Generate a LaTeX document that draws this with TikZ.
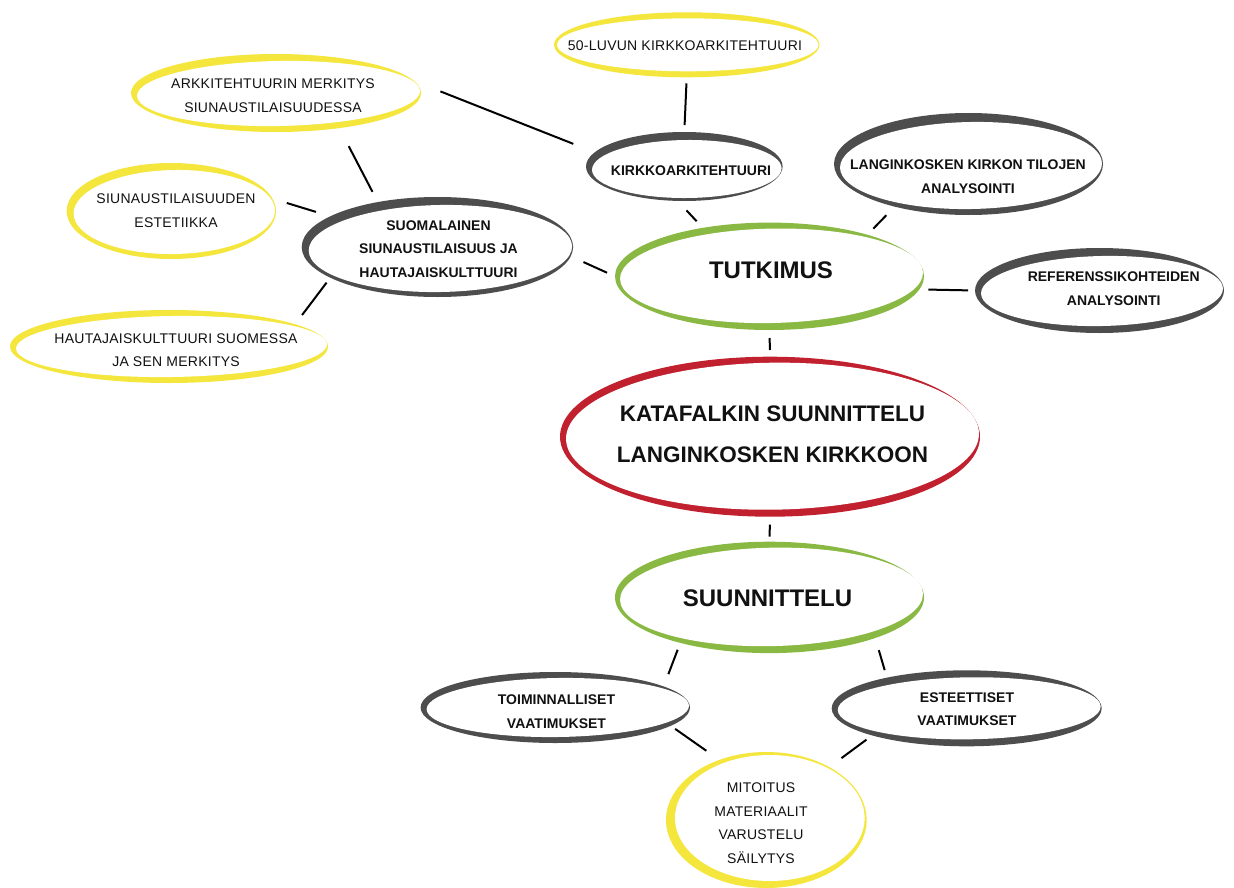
\documentclass[tikz,border=0pt]{standalone}
\usepackage{fontspec}
\setmainfont{Liberation Sans}
\newfontfamily\yfont[LetterSpace=1.8]{Liberation Sans}
\usetikzlibrary{calc,shapes.geometric}
\definecolor{byellow}{RGB}{244,230,60}
\definecolor{bdark}{RGB}{77,77,77}
\definecolor{bgreen}{RGB}{137,184,67}
\definecolor{bred}{RGB}{193,32,46}
\definecolor{txtc}{RGB}{17,17,17}
\tikzset{
  hub/.style={ellipse, inner sep=0pt, outer sep=0pt},
  ytxt/.style={font=\yfont\fontsize{14}{23.5}\selectfont, align=center, inner sep=0pt, text=txtc},
  dtxt/.style={font=\bfseries\fontsize{14}{23.5}\selectfont, align=center, inner sep=0pt, text=txtc},
  mtxt/.style={font=\bfseries\fontsize{24}{28}\selectfont, align=center, inner sep=0pt, text=txtc},
  ktxt/.style={font=\bfseries\fontsize{22.5}{41}\selectfont, align=center, inner sep=0pt, text=txtc},
  conn/.style={line width=2pt, black}
}
% name, center, rx, ry, colour, offset (dx,dy), sx, sy, rotation of the inner ellipse
\newcommand{\brushell}[9]{%
  \fill[#5] (#2) ellipse ({#3} and {#4});
  \begin{scope}[shift={($(#2)+(#6)$)}, rotate=#9]
    \fill[white] (0,0) ellipse ({#3-#7} and {#4-#8});
  \end{scope}
  \node[hub, minimum width={2*#3}, minimum height={2*#4}] (#1) at (#2) {};
}
\begin{document}
\begin{tikzpicture}[x=1pt,y=-1pt]
\fill[white] (0,0) rectangle (1234,888);
\useasboundingbox (0,0) rectangle (1234,888);

\brushell{luku}{686.7,44.8}{132.7}{32.5}{byellow}{1,0}{2}{6}{0}
\brushell{arkki}{276,93}{145}{39}{byellow}{2.5,0.5}{3.5}{6.5}{1}
\brushell{siun}{171.3,211}{104.7}{48}{byellow}{3,1}{4}{6}{1}
\brushell{hauta}{169,346.5}{159}{36.5}{byellow}{2.5,0}{3.5}{6}{0.8}
\brushell{suom}{437.4,247}{135.7}{50}{bdark}{3,1.5}{4}{6.5}{1}
\brushell{kirk}{684.3,166.5}{98.3}{34.5}{bdark}{2.5,2.5}{3.5}{5.5}{0.5}
\brushell{lang}{968.5,164}{134.5}{51}{bdark}{2.5,1.5}{3.5}{7.5}{1}
\brushell{tutk}{769.5,276.3}{154.5}{53.7}{bgreen}{2,-0.5}{3}{6.5}{1.2}
\brushell{ref}{1099.5,290.5}{124.5}{42.5}{bdark}{2.5,0.5}{3.5}{7.5}{1.2}
\brushell{kata}{770,436.7}{210}{80}{bred}{2.5,-0.5}{3.5}{6.5}{0.8}
\brushell{suun}{769.5,597.4}{154.5}{55.7}{bgreen}{2,-0.5}{3}{6.5}{1.2}
\brushell{toim}{555.3,707.5}{134.7}{35.5}{bdark}{2.5,0}{3.5}{6}{0.8}
\brushell{est}{966.7,708.3}{135}{38}{bdark}{2.5,0}{3.5}{7}{0.8}
\brushell{mit}{766.3,820}{100.3}{68}{byellow}{3.5,-2}{5.5}{5}{0}

\node[ytxt] (tluku) at (685,46) {50-LUVUN KIRKKOARKITEHTUURI};
\node[ytxt] (tarkki) at (273,95.5) {ARKKITEHTUURIN MERKITYS\\SIUNAUSTILAISUUDESSA};
\node[ytxt] (tsiun) at (176,210.5) {SIUNAUSTILAISUUDEN\\ESTETIIKKA};
\node[ytxt] (thauta) at (176,350) {HAUTAJAISKULTTUURI SUOMESSA\\JA SEN MERKITYS};
\node[dtxt] (tsuom) at (438.5,249) {SUOMALAINEN\\SIUNAUSTILAISUUS JA\\HAUTAJAISKULTTUURI};
\node[dtxt] (tkirk) at (691,171) {KIRKKOARKITEHTUURI};
\node[dtxt] (tlang) at (968,176.5) {LANGINKOSKEN KIRKON TILOJEN\\ANALYSOINTI};
\node[mtxt] (ttutk) at (771,270) {TUTKIMUS};
\node[dtxt] (tref) at (1113.7,288.5) {REFERENSSIKOHTEIDEN\\ANALYSOINTI};
\node[ktxt] (tkata) at (772.5,434.5) {KATAFALKIN SUUNNITTELU\\LANGINKOSKEN KIRKKOON};
\node[mtxt] (tsuun) at (767.5,598) {SUUNNITTELU};
\node[dtxt] (ttoim) at (556.5,711.5) {TOIMINNALLISET\\VAATIMUKSET};
\node[dtxt] (test) at (967,709) {ESTEETTISET\\VAATIMUKSET};
\node[ytxt] (tmit) at (761,823) {MITOITUS\\MATERIAALIT\\VARUSTELU\\SÄILYTYS};

\draw[conn, shorten <=6pt, shorten >=7pt] (luku.south) -- (kirk.north);
\draw[conn, shorten <=28.5pt, shorten >=23pt] (arkki.5) -- (kirk.171);
\draw[conn, shorten <=20.4pt, shorten >=11.6pt] (arkki.-29) -- (suom.143);
\draw[conn, shorten <=15pt, shorten >=15pt] (siun.7) -- (suom.164);
\draw[conn, shorten <=11.6pt, shorten >=6.2pt] (hauta.10) -- (suom.-164);
\draw[conn, shorten <=14pt, shorten >=8.7pt] (suom.-4) -- (tutk.180);
\draw[conn, shorten <=13pt, shorten >=9pt] (kirk.-101) -- (tutk.144);
\draw[conn, shorten <=12pt, shorten >=8.5pt] (lang.-150) -- (tutk.23);
\draw[conn, shorten <=9pt, shorten >=7pt] (tutk.-5) -- (ref.180);
\draw[conn, shorten <=8pt, shorten >=6.7pt] (tutk.south) -- (kata.north);
\draw[conn, shorten <=8pt, shorten >=5pt] (kata.south) -- (suun.north);
\draw[conn, shorten <=7.4pt, shorten >=13.1pt] (suun.-153) -- (toim.11);
\draw[conn, shorten <=12.6pt, shorten >=7.8pt] (suun.-21) -- (est.159);
\draw[conn, shorten <=5.3pt, shorten >=15.9pt] (toim.-9) -- (mit.128);
\draw[conn, shorten <=7.1pt, shorten >=15.1pt] (est.-164) -- (mit.40);
\end{tikzpicture}
\end{document}
